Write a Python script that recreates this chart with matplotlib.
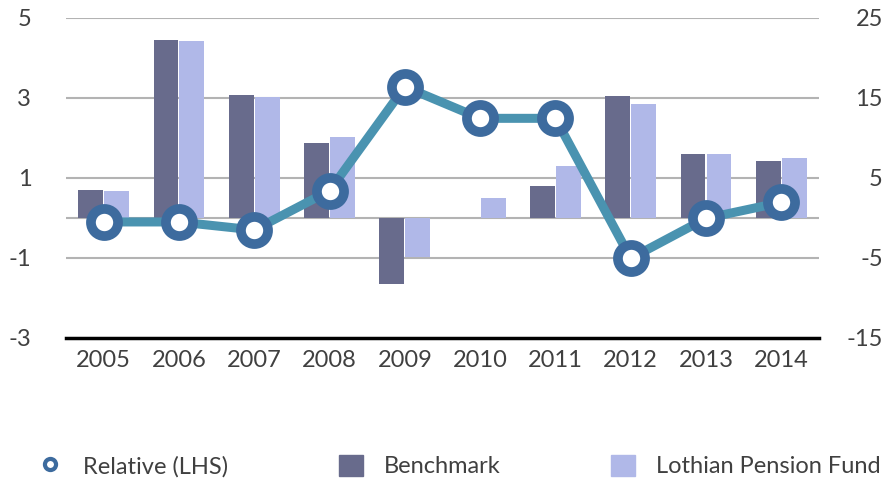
import matplotlib.pyplot as plt
import numpy as np
from matplotlib.lines import Line2D
from matplotlib.patches import Patch

years = ["2005", "2006", "2007", "2008", "2009", "2010", "2011", "2012", "2013", "2014"]
relative = [-0.1, -0.1, -0.3, 0.68, 3.28, 2.49, 2.49, -1.01, -0.01, 0.39]
benchmark = [3.5, 22.25, 15.4, 9.4, -8.2, 0.0, 4.0, 15.25, 8.0, 7.1]
lothian = [3.4, 22.1, 15.1, 10.1, -4.9, 2.5, 6.5, 14.25, 8.0, 7.5]

left_ticks = [-3, -1, 1, 3, 5]
right_ticks = [-15, -5, 5, 15, 25]

c_bench = "#686b8c"
c_lpf = "#b0b8e8"
c_line = "#4a93b0"
c_marker = "#3d6b9e"
c_text = "#404040"
c_grid = "#b3b3b3"

plt.rcParams["font.family"] = ["Lato", "DejaVu Sans"]
plt.rcParams["axes.unicode_minus"] = False

fig = plt.figure(figsize=(8.87, 4.84), dpi=100)
ax = fig.add_axes([0.0744, 0.3017, 0.8489, 0.6613])
ax2 = ax.twinx()
ax.set_zorder(ax2.get_zorder() + 1)
ax.patch.set_visible(False)

x = np.arange(len(years))
w = 0.33
ax2.bar(x - w / 2 - 0.007, benchmark, w, color=c_bench, zorder=2)
ax2.bar(x + w / 2 + 0.007, lothian, w, color=c_lpf, zorder=2)

for v in right_ticks[1:]:
    ax2.axhline(v, color=c_grid, lw=1.5, zorder=1)
ax2.axhline(0, color=c_grid, lw=1.5, zorder=1)
ax2.axhline(-15, color="black", lw=2.5, zorder=3, clip_on=False)

ax.plot(x, relative, color=c_line, lw=6.5, marker="o", ms=19.5, mew=7,
        mfc="white", mec=c_marker, zorder=5)

ax.set_xlim(-0.5, len(years) - 0.5)
ax.set_ylim(-3, 5)
ax2.set_ylim(-15, 25)
ax.set_yticks(left_ticks)
ax2.set_yticks(right_ticks)
ax.set_xticks(x)
ax.set_xticklabels(years)

for a in (ax, ax2):
    for s in a.spines.values():
        s.set_visible(False)
    a.tick_params(length=0, labelsize=17, colors=c_text)
ax.tick_params(axis="y", pad=25)
ax.tick_params(axis="x", pad=9)
ax2.tick_params(axis="y", pad=46)
for lbl in ax2.get_yticklabels():
    lbl.set_horizontalalignment("right")

handles = [
    Line2D([], [], ls="none", marker="o", ms=8, mew=3, mfc="white", mec=c_marker),
    Patch(color=c_bench),
    Patch(color=c_lpf),
]
labels = ["Relative (LHS)", "Benchmark", "Lothian Pension Fund"]
leg = fig.legend(handles, labels, loc="center", bbox_to_anchor=(0.518, 0.037), ncol=3,
                 frameon=False, fontsize=17, handlelength=1.0, handleheight=1.0,
                 handletextpad=0.9, columnspacing=4.7, labelcolor=c_text)

fig.savefig("out.png", dpi=100)
